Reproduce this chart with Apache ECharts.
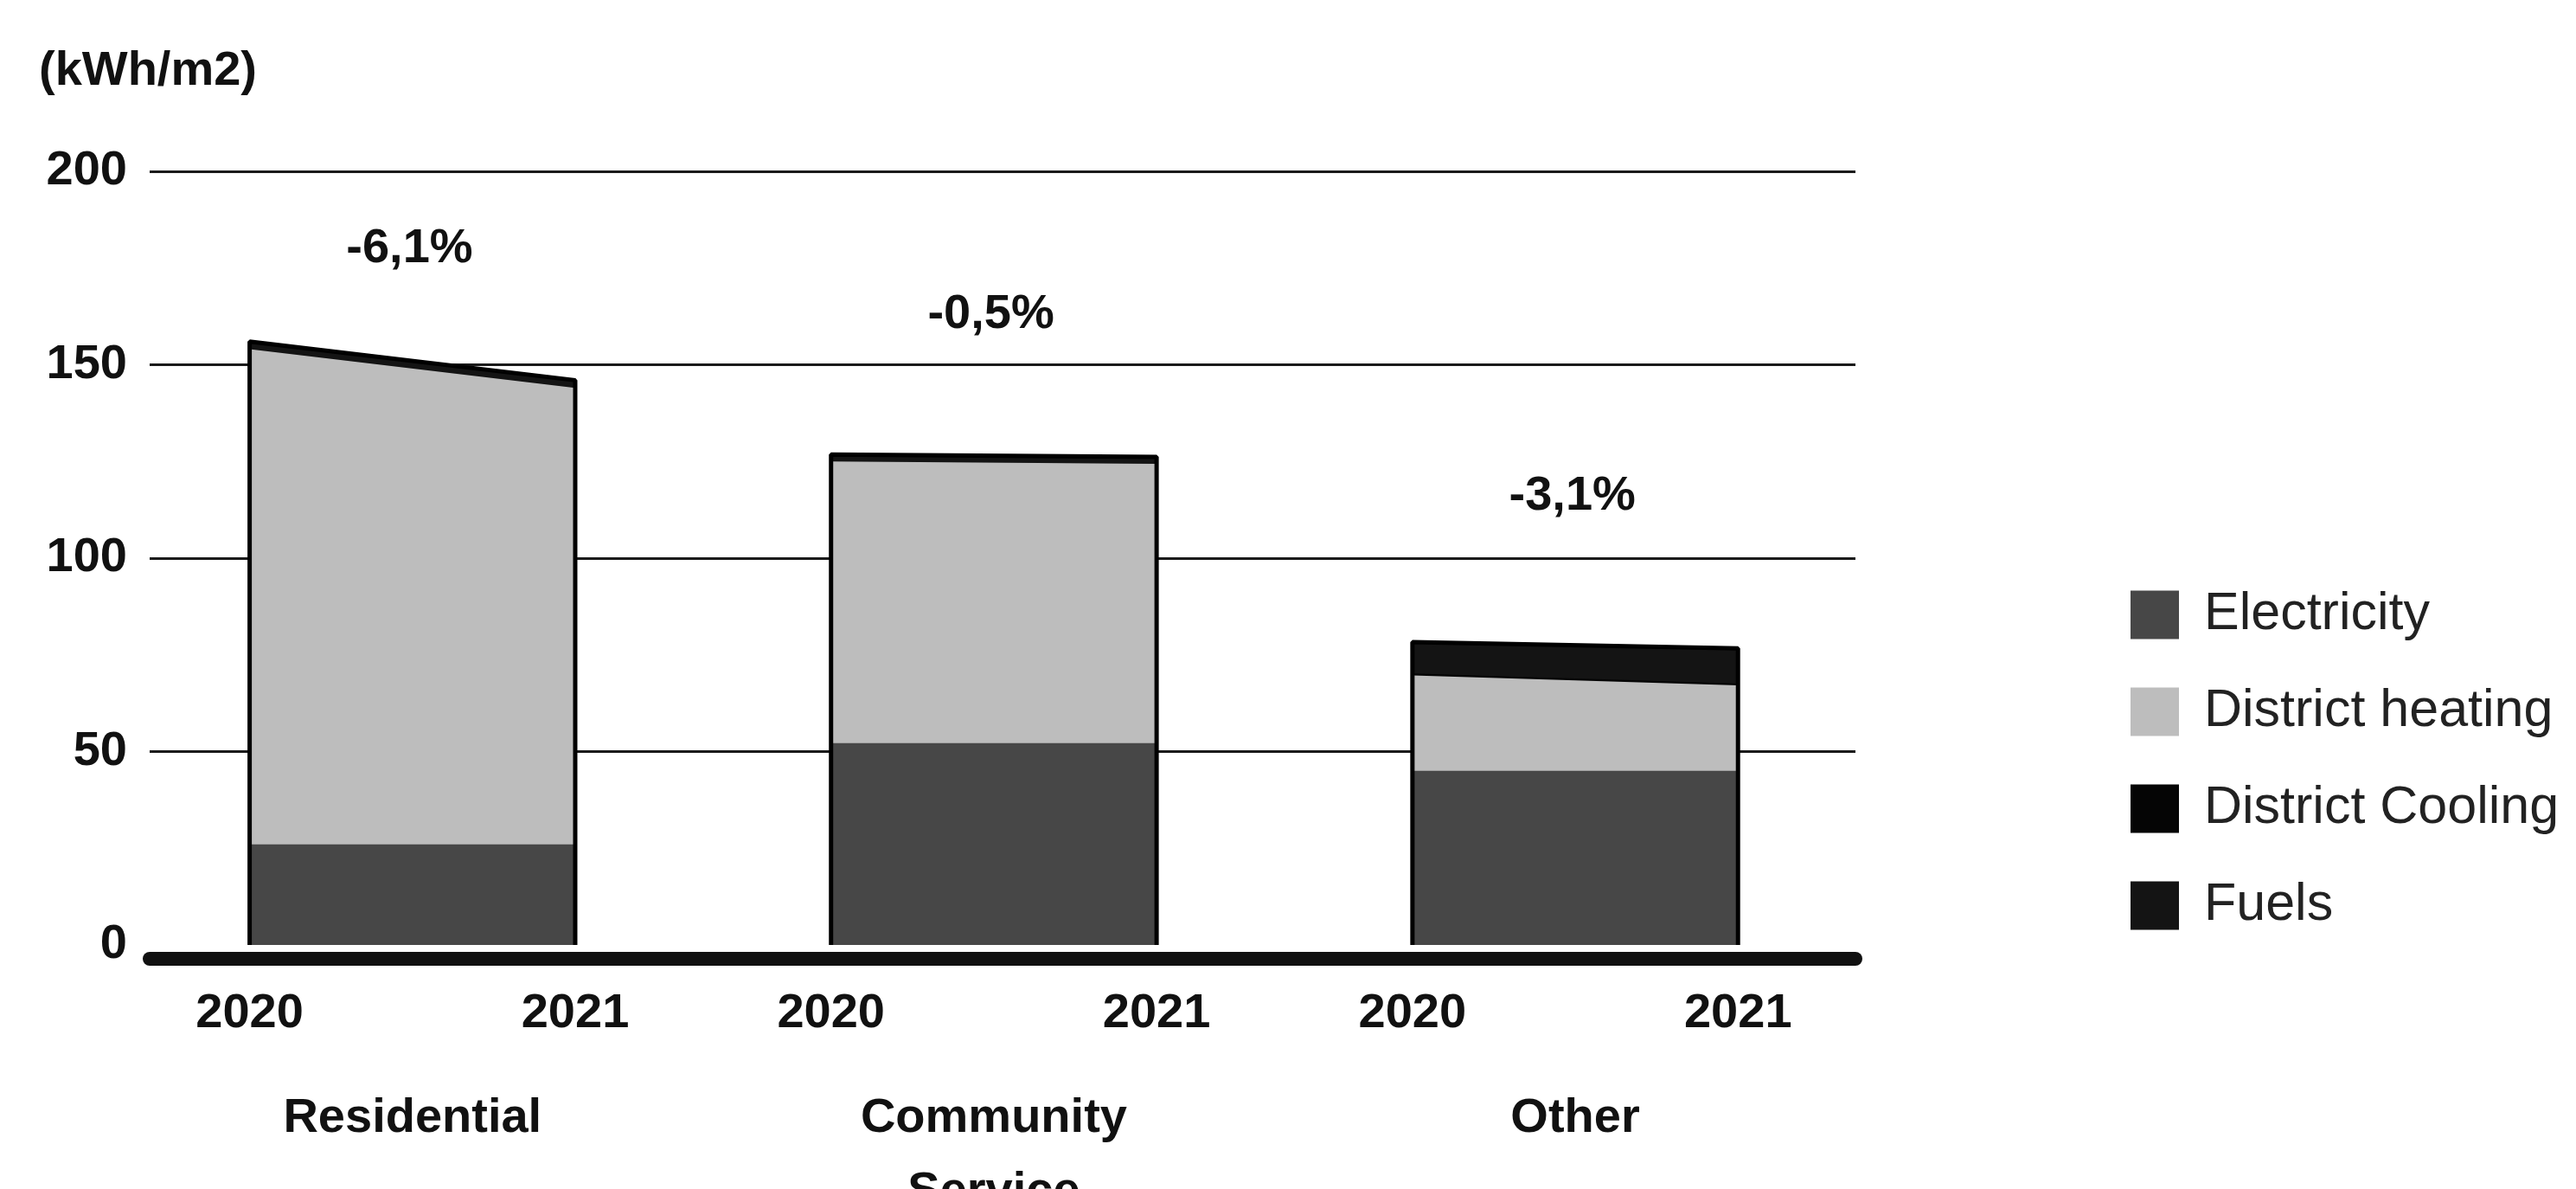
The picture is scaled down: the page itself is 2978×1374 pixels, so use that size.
<!DOCTYPE html>
<html>
<head>
<meta charset="utf-8">
<script src="https://cdn.jsdelivr.net/npm/echarts@6/dist/echarts.min.js"></script>
<style>
  html, body { margin: 0; padding: 0; background: #fff; }
  #chart { width: 2978px; height: 1374px; }
</style>
</head>
<body>
<div id="chart"></div>
<script>
// ---- Data (kWh/m2) ----
const groups = ['Residential', 'Community\nService', 'Other'];
const years = ['2020', '2021'];
const seriesNames = ['Electricity', 'District heating', 'District Cooling', 'Fuels'];
const electricity     = [[26.0, 26.0], [52.2, 52.2], [45.0, 45.0]];
const districtHeating = [[128.0, 118.0], [72.8, 72.2], [24.7, 22.1]];
const districtCooling = [[0.0, 0.0], [0.0, 0.0], [0.5, 0.5]];
const fuels           = [[2.0, 2.0], [1.8, 1.8], [8.1, 9.1]];
const changeLabels = ['-6,1%', '-0,5%', '-3,1%'];
const changeLabelValue = [180, 163, 116];
const yTicks = [0, 50, 100, 150, 200];

// ---- Layout / style constants ----
const AREA_W = 0.56;      // width of a group's area in x units (one group = 1 unit)
const GROUP_MID = 0.28;
const X_MIN = -0.172, X_MAX = 2.762;
const FONT = 'Liberation Sans, Arial, sans-serif';
const colors = ['#474747', '#bdbdbd', '#050505', '#141414'];
// stacking order, bottom -> top
const valuesByType = [electricity, districtHeating, districtCooling, fuels];

const yearTickValues = [];
const yearTickText = [];
groups.forEach((g, gi) => {
  years.forEach((y, yi) => {
    yearTickValues.push(gi + yi * AREA_W);
    yearTickText.push(y);
  });
});
const groupTickValues = groups.map((g, gi) => gi + GROUP_MID);

function nearestLabel(values, texts, v) {
  let best = 0, bd = Infinity;
  values.forEach((x, i) => { const d = Math.abs(x - v); if (d < bd) { bd = d; best = i; } });
  return texts[best];
}

// cumulative tops of each layer: cum[ti][gi][yi]
const cum = valuesByType.map((arr, ti) =>
  groups.map((g, gi) => years.map((y, yi) => {
    let s = 0;
    for (let k = 0; k <= ti; k++) s += valuesByType[k][gi][yi];
    return s;
  }))
);

const series = [];
// draw top layer first so lower layers paint over it (each filled down to 0)
for (let ti = valuesByType.length - 1; ti >= 0; ti--) {
  groups.forEach((g, gi) => {
    series.push({
      type: 'line',
      name: seriesNames[ti],
      xAxisIndex: 0,
      symbol: 'none',
      silent: true,
      lineStyle: { width: 0, color: colors[ti] },
      itemStyle: { color: colors[ti] },
      areaStyle: { color: colors[ti], opacity: 1 },
      data: years.map((y, yi) => [gi + yi * AREA_W, cum[ti][gi][yi]])
    });
  });
}
// outline around each group's stacked area, built from totals
groups.forEach((g, gi) => {
  const totals = cum[cum.length - 1][gi];
  series.push({
    type: 'line',
    name: 'outline' + gi,
    xAxisIndex: 0,
    symbol: 'none',
    silent: true,
    z: 5,
    lineStyle: { width: 5, color: '#000' },
    data: [[gi, 0], [gi, totals[0]], [gi + AREA_W, totals[1]], [gi + AREA_W, 0]]
  });
});

series.push({
  type: 'scatter',
  name: 'change',
  xAxisIndex: 0,
  symbolSize: 1,
  itemStyle: { opacity: 0 },
  silent: true,
  z: 6,
  label: {
    show: true,
    position: 'inside',
    formatter: p => changeLabels[p.dataIndex],
    fontFamily: FONT,
    fontWeight: 'bold',
    fontSize: 56,
    color: '#111',
    opacity: 1
  },
  data: groups.map((g, gi) => [gi + GROUP_MID - 0.005, changeLabelValue[gi]])
});

const chart = echarts.init(document.getElementById('chart'), null, { renderer: 'canvas' });
chart.setOption({
  backgroundColor: '#fff',
  animation: false,
  title: {
    text: '(kWh/m2)',
    left: 40,
    top: 50,
    textStyle: { fontFamily: FONT, fontWeight: 'bold', fontSize: 56, color: '#111' }
  },
  legend: {
    data: seriesNames,
    orient: 'vertical',
    left: 2458,
    top: 675,
    icon: 'rect',
    itemWidth: 56,
    itemHeight: 56,
    itemGap: 51,
    textStyle: { fontFamily: FONT, fontSize: 61, color: '#222', padding: [0, 0, 0, 24] }
  },
  grid: { left: 173, right: 833, top: 198, bottom: 282, outerBoundsMode: 'none', containLabel: false },
  xAxis: [
    {
      type: 'value',
      min: X_MIN,
      max: X_MAX,
      offset: 16,
      axisLine: { show: true, onZero: false, lineStyle: { color: '#111', width: 16 } },
      axisTick: { show: false },
      splitLine: { show: false },
      axisLabel: {
        customValues: yearTickValues,
        formatter: v => nearestLabel(yearTickValues, yearTickText, v),
        margin: 36,
        fontFamily: FONT,
        fontWeight: 'bold',
        fontSize: 56,
        color: '#111',
        hideOverlap: false
      }
    },
    {
      type: 'value',
      min: X_MIN,
      max: X_MAX,
      position: 'bottom',
      offset: 16,
      axisLine: { show: false },
      axisTick: { show: false },
      splitLine: { show: false },
      axisLabel: {
        customValues: groupTickValues,
        formatter: v => nearestLabel(groupTickValues, groups, v),
        margin: 142,
        lineHeight: 85,
        fontFamily: FONT,
        fontWeight: 'bold',
        fontSize: 56,
        color: '#111',
        hideOverlap: false
      }
    }
  ],
  yAxis: {
    type: 'value',
    min: yTicks[0],
    max: yTicks[yTicks.length - 1],
    interval: yTicks[1] - yTicks[0],
    axisLine: { show: false },
    axisTick: { show: false },
    splitLine: { show: true, showMinLine: false, lineStyle: { color: '#1a1a1a', width: 3 } },
    axisLabel: {
      margin: 26,
      fontFamily: FONT,
      fontWeight: 'bold',
      fontSize: 56,
      color: '#111'
    }
  },
  series: series
});
</script>
</body>
</html>
